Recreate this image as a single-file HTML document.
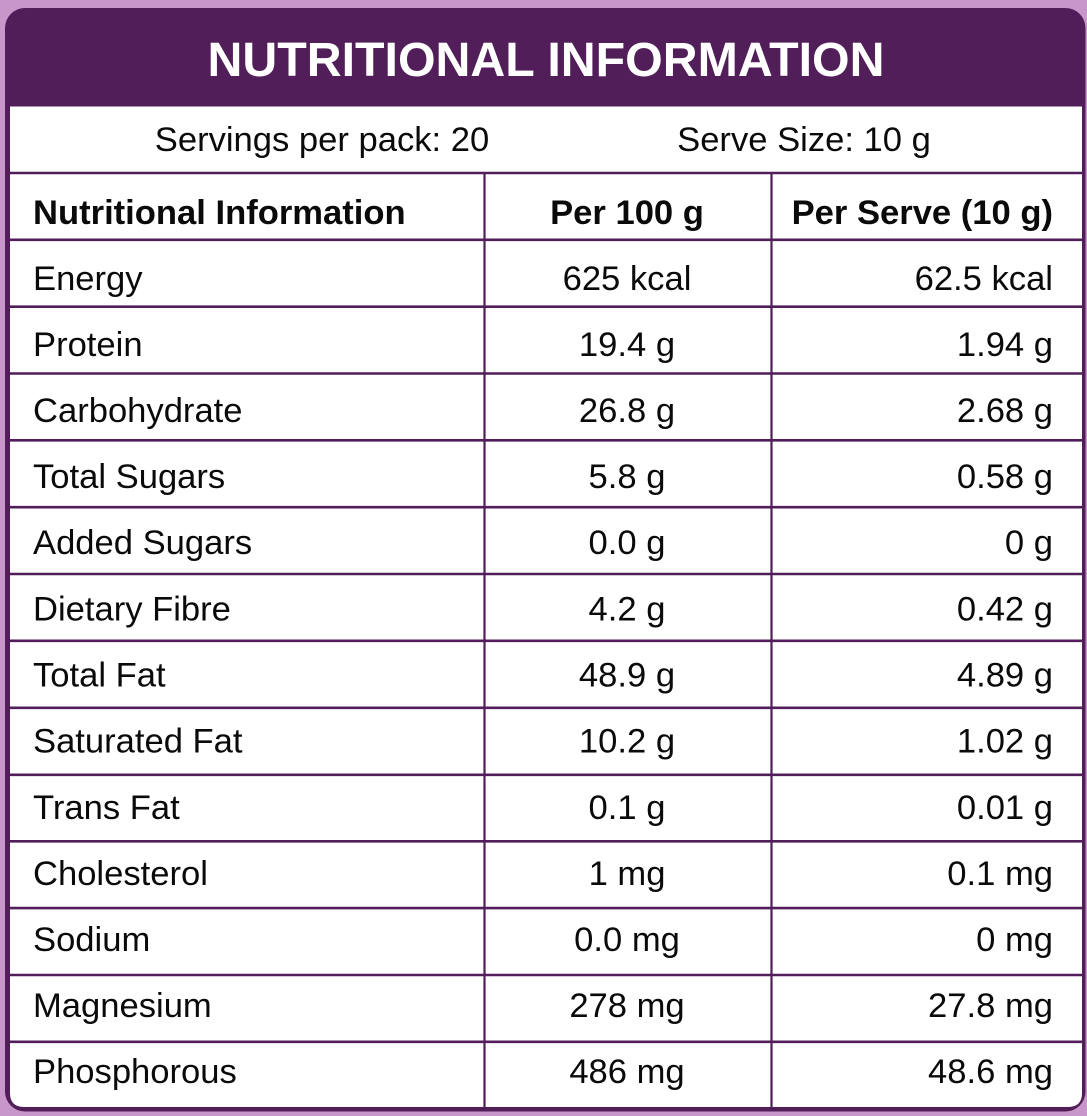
<!DOCTYPE html>
<html>
<head>
<meta charset="utf-8">
<style>
  html, body { margin: 0; padding: 0; background: #c896c8; }
  body { width: 1087px; height: 1116px; overflow: hidden; }
  svg { display: block; }
  text { font-family: "Liberation Sans", Arial, sans-serif; fill: #0a0a0a; }
</style>
</head>
<body>
<svg width="1087" height="1116" viewBox="0 0 1087 1116" xmlns="http://www.w3.org/2000/svg">
  <rect x="0" y="0" width="1087" height="1116" fill="#c896c8"/>
  <!-- outer card -->
  <rect x="5" y="8" width="1080.5" height="1103.5" rx="20" ry="20" fill="#511e5a"/>
  <!-- white interior with rounded bottom corners -->
  <path d="M10 106.5 H1082 V1093 Q1082 1107 1068 1107 H24 Q10 1107 10 1093 Z" fill="#ffffff"/>

  <!-- title -->
  <text x="546" y="76" font-size="48.3" font-weight="bold" text-anchor="middle" style="fill:#ffffff">NUTRITIONAL INFORMATION</text>

  <!-- horizontal lines -->
  <g stroke="#511e5a" stroke-width="2.6">
    <line x1="10" y1="173" x2="1082" y2="173"/>
    <line x1="10" y1="239.8" x2="1082" y2="239.8"/>
    <line x1="10" y1="306.7" x2="1082" y2="306.7"/>
    <line x1="10" y1="373.5" x2="1082" y2="373.5"/>
    <line x1="10" y1="440.3" x2="1082" y2="440.3"/>
    <line x1="10" y1="507.2" x2="1082" y2="507.2"/>
    <line x1="10" y1="574" x2="1082" y2="574"/>
    <line x1="10" y1="640.8" x2="1082" y2="640.8"/>
    <line x1="10" y1="707.8" x2="1082" y2="707.8"/>
    <line x1="10" y1="774.8" x2="1082" y2="774.8"/>
    <line x1="10" y1="841.3" x2="1082" y2="841.3"/>
    <line x1="10" y1="908.1" x2="1082" y2="908.1"/>
    <line x1="10" y1="975" x2="1082" y2="975"/>
    <line x1="10" y1="1041.8" x2="1082" y2="1041.8"/>
    <!-- vertical column lines -->
    <line x1="484.5" y1="173" x2="484.5" y2="1107" stroke-width="2.2"/>
    <line x1="771.5" y1="173" x2="771.5" y2="1107" stroke-width="2.2"/>
  </g>

  <!-- servings row -->
  <text x="322" y="151" font-size="34.6" text-anchor="middle">Servings per pack: 20</text>
  <text x="804" y="151" font-size="34.6" text-anchor="middle">Serve Size: 10 g</text>

  <!-- header row -->
  <text x="33" y="224" font-size="34.6" font-weight="bold">Nutritional Information</text>
  <text x="627" y="224" font-size="34.6" font-weight="bold" text-anchor="middle">Per 100 g</text>
  <text x="1053" y="224" font-size="34.6" font-weight="bold" text-anchor="end">Per Serve (10 g)</text>

  <!-- data rows -->
  <g font-size="34.6">
    <text x="33" y="290">Energy</text>
    <text x="627" y="290" text-anchor="middle">625 kcal</text>
    <text x="1053" y="290" text-anchor="end">62.5 kcal</text>

    <text x="33" y="356">Protein</text>
    <text x="627" y="356" text-anchor="middle">19.4 g</text>
    <text x="1053" y="356" text-anchor="end">1.94 g</text>

    <text x="33" y="422">Carbohydrate</text>
    <text x="627" y="422" text-anchor="middle">26.8 g</text>
    <text x="1053" y="422" text-anchor="end">2.68 g</text>

    <text x="33" y="488">Total Sugars</text>
    <text x="627" y="488" text-anchor="middle">5.8 g</text>
    <text x="1053" y="488" text-anchor="end">0.58 g</text>

    <text x="33" y="554">Added Sugars</text>
    <text x="627" y="554" text-anchor="middle">0.0 g</text>
    <text x="1053" y="554" text-anchor="end">0 g</text>

    <text x="33" y="620.5">Dietary Fibre</text>
    <text x="627" y="620.5" text-anchor="middle">4.2 g</text>
    <text x="1053" y="620.5" text-anchor="end">0.42 g</text>

    <text x="33" y="686.5">Total Fat</text>
    <text x="627" y="686.5" text-anchor="middle">48.9 g</text>
    <text x="1053" y="686.5" text-anchor="end">4.89 g</text>

    <text x="33" y="752.7">Saturated Fat</text>
    <text x="627" y="752.7" text-anchor="middle">10.2 g</text>
    <text x="1053" y="752.7" text-anchor="end">1.02 g</text>

    <text x="33" y="818.8">Trans Fat</text>
    <text x="627" y="818.8" text-anchor="middle">0.1 g</text>
    <text x="1053" y="818.8" text-anchor="end">0.01 g</text>

    <text x="33" y="884.9">Cholesterol</text>
    <text x="627" y="884.9" text-anchor="middle">1 mg</text>
    <text x="1053" y="884.9" text-anchor="end">0.1 mg</text>

    <text x="33" y="951">Sodium</text>
    <text x="627" y="951" text-anchor="middle">0.0 mg</text>
    <text x="1053" y="951" text-anchor="end">0 mg</text>

    <text x="33" y="1017">Magnesium</text>
    <text x="627" y="1017" text-anchor="middle">278 mg</text>
    <text x="1053" y="1017" text-anchor="end">27.8 mg</text>

    <text x="33" y="1083">Phosphorous</text>
    <text x="627" y="1083" text-anchor="middle">486 mg</text>
    <text x="1053" y="1083" text-anchor="end">48.6 mg</text>
  </g>
</svg>
</body>
</html>
